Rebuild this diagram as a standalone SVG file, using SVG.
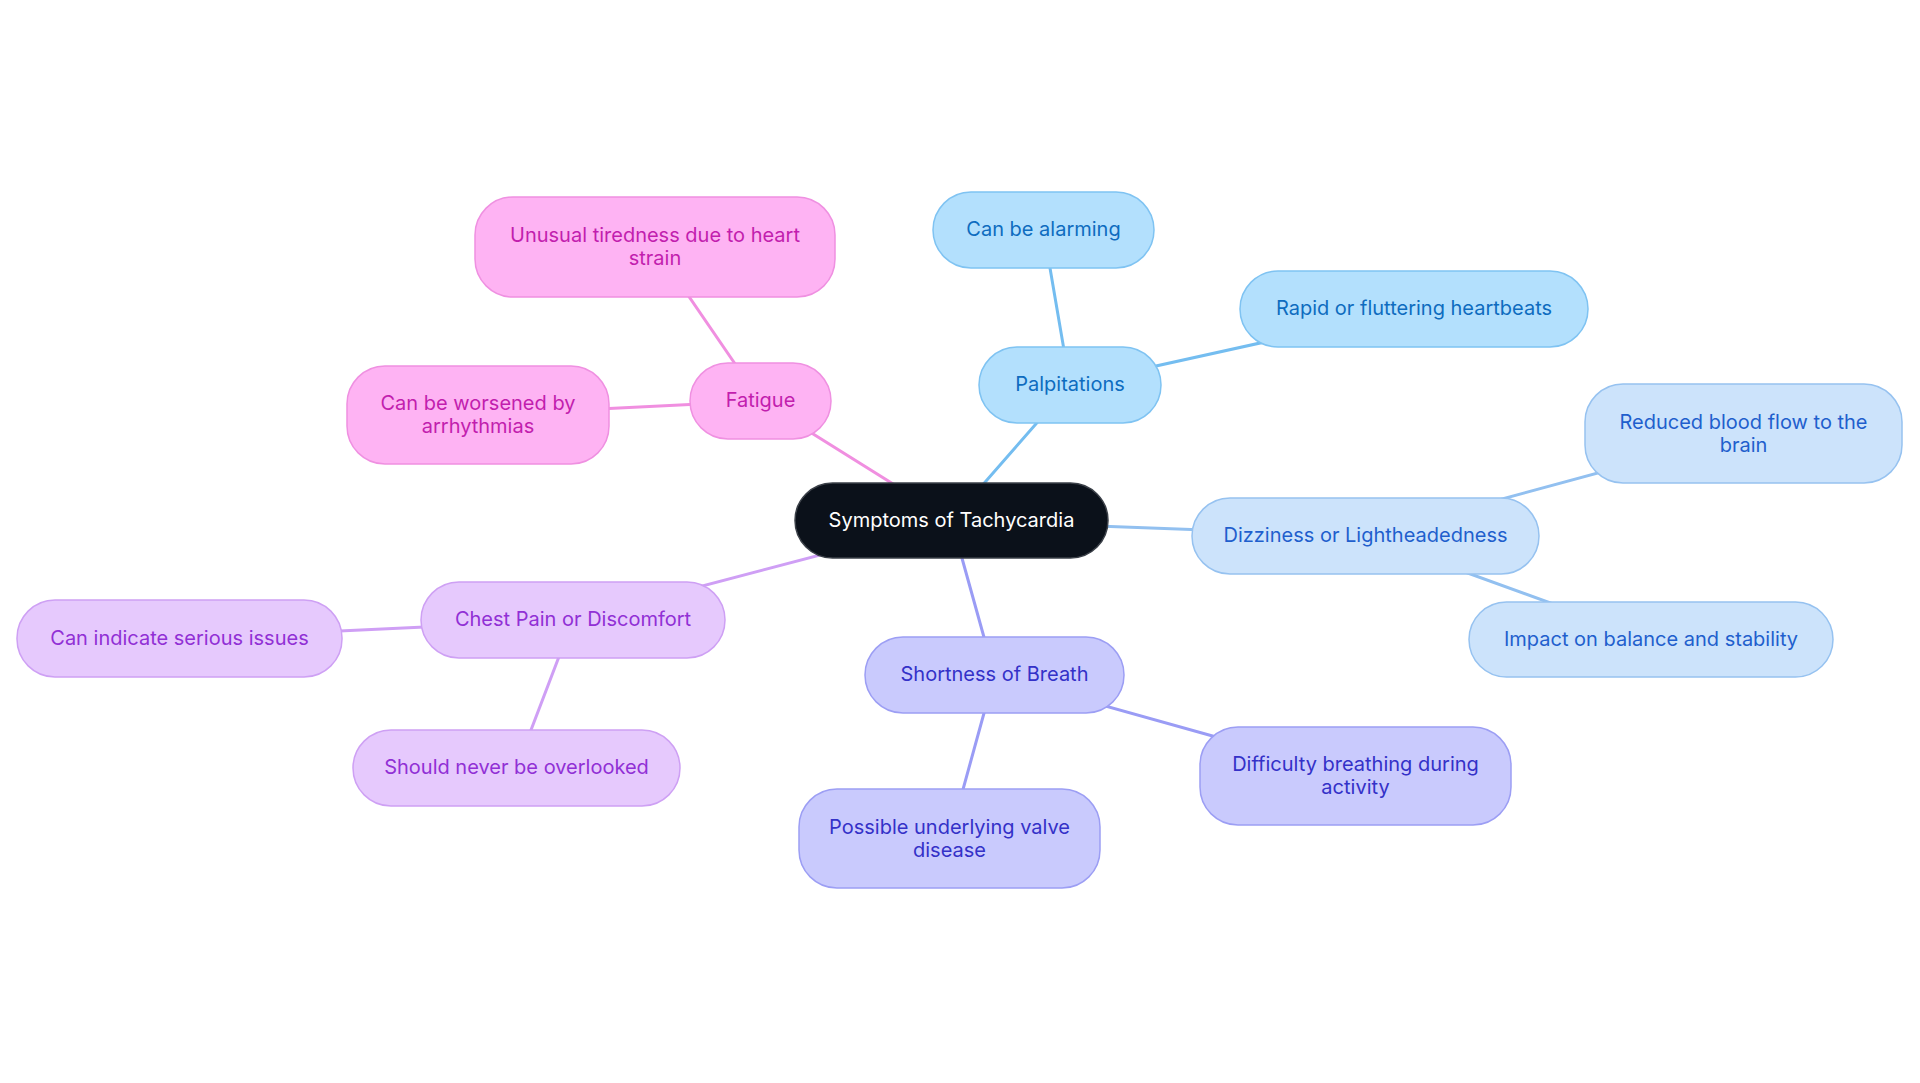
<svg xmlns="http://www.w3.org/2000/svg" width="1920" height="1083" viewBox="0 0 1920 1083">
<style>
text{font-family:Inter,"Noto Sans","Liberation Sans",sans-serif;font-size:20px;text-anchor:middle}
.l{stroke-width:3;fill:none;stroke-linecap:round}
.n rect{stroke-width:1.5}
.root rect{fill:#0b111a;stroke:#3b4048}
.root text{fill:#ffffff}
.pk rect{fill:#feb3f3;stroke:#ef90e1}
.pk text{fill:#c21eae}
.lb rect{fill:#b3e0fd;stroke:#7fc3f2}
.lb text{fill:#0e6cbf}
.pb rect{fill:#cce3fb;stroke:#96c2f0}
.pb text{fill:#1f5fcd}
.pw rect{fill:#c9cafd;stroke:#9c9ef4}
.pw text{fill:#3431c8}
.lv rect{fill:#e6c9fd;stroke:#cea0f4}
.lv text{fill:#9130d5}
</style>
<rect width="1920" height="1083" fill="#ffffff"/>
<g id="connectors">
<line class="l" x1="951.5" y1="520.5" x2="760.5" y2="401" stroke="#f08fe0"/>
<line class="l" x1="760.5" y1="401" x2="655" y2="247" stroke="#f08fe0"/>
<line class="l" x1="760.5" y1="401" x2="478" y2="415" stroke="#f08fe0"/>
<line class="l" x1="951.5" y1="520.5" x2="1070" y2="385" stroke="#74bdf0"/>
<line class="l" x1="1070" y1="385" x2="1043.5" y2="230" stroke="#74bdf0"/>
<line class="l" x1="1070" y1="385" x2="1414" y2="309" stroke="#74bdf0"/>
<line class="l" x1="951.5" y1="520.5" x2="1365.5" y2="536" stroke="#92c0f0"/>
<line class="l" x1="1365.5" y1="536" x2="1743.5" y2="433.5" stroke="#92c0f0"/>
<line class="l" x1="1365.5" y1="536" x2="1651" y2="639.5" stroke="#92c0f0"/>
<line class="l" x1="951.5" y1="520.5" x2="994.5" y2="675" stroke="#9a9cf5"/>
<line class="l" x1="994.5" y1="675" x2="1355.5" y2="776" stroke="#9a9cf5"/>
<line class="l" x1="994.5" y1="675" x2="949.5" y2="838.5" stroke="#9a9cf5"/>
<line class="l" x1="951.5" y1="520.5" x2="573" y2="620" stroke="#cf9ff5"/>
<line class="l" x1="573" y1="620" x2="179.5" y2="638.5" stroke="#cf9ff5"/>
<line class="l" x1="573" y1="620" x2="516.5" y2="768" stroke="#cf9ff5"/>
</g>
<g id="root" class="n root"><rect x="795" y="483" width="313" height="75" rx="37.5"/><text x="951.5" y="527">Symptoms of Tachycardia</text></g>
<g id="fatigue" class="n pk"><rect x="690" y="363" width="141" height="76" rx="38"/><text x="760.5" y="407">Fatigue</text></g>
<g id="unusual" class="n pk"><rect x="475" y="197" width="360" height="100" rx="38"/><text x="655" y="242">Unusual tiredness due to heart</text><text x="655" y="265">strain</text></g>
<g id="worsened" class="n pk"><rect x="347" y="366" width="262" height="98" rx="38"/><text x="478" y="410">Can be worsened by</text><text x="478" y="433">arrhythmias</text></g>
<g id="palpitations" class="n lb"><rect x="979" y="347" width="182" height="76" rx="38"/><text x="1070" y="391">Palpitations</text></g>
<g id="alarming" class="n lb"><rect x="933" y="192" width="221" height="76" rx="38"/><text x="1043.5" y="236">Can be alarming</text></g>
<g id="rapid" class="n lb"><rect x="1240" y="271" width="348" height="76" rx="38"/><text x="1414" y="315">Rapid or fluttering heartbeats</text></g>
<g id="dizziness" class="n pb"><rect x="1192" y="498" width="347" height="76" rx="38"/><text x="1365.5" y="542">Dizziness or Lightheadedness</text></g>
<g id="reduced" class="n pb"><rect x="1585" y="384" width="317" height="99" rx="38"/><text x="1743.5" y="428.5">Reduced blood flow to the</text><text x="1743.5" y="451.5">brain</text></g>
<g id="impact" class="n pb"><rect x="1469" y="602" width="364" height="75" rx="37.5"/><text x="1651" y="645.5">Impact on balance and stability</text></g>
<g id="shortness" class="n pw"><rect x="865" y="637" width="259" height="76" rx="38"/><text x="994.5" y="681">Shortness of Breath</text></g>
<g id="difficulty" class="n pw"><rect x="1200" y="727" width="311" height="98" rx="38"/><text x="1355.5" y="771">Difficulty breathing during</text><text x="1355.5" y="794">activity</text></g>
<g id="possible" class="n pw"><rect x="799" y="789" width="301" height="99" rx="38"/><text x="949.5" y="833.5">Possible underlying valve</text><text x="949.5" y="856.5">disease</text></g>
<g id="chest" class="n lv"><rect x="421" y="582" width="304" height="76" rx="38"/><text x="573" y="626">Chest Pain or Discomfort</text></g>
<g id="indicate" class="n lv"><rect x="17" y="600" width="325" height="77" rx="38"/><text x="179.5" y="644.5">Can indicate serious issues</text></g>
<g id="overlooked" class="n lv"><rect x="353" y="730" width="327" height="76" rx="38"/><text x="516.5" y="774">Should never be overlooked</text></g>
</svg>
